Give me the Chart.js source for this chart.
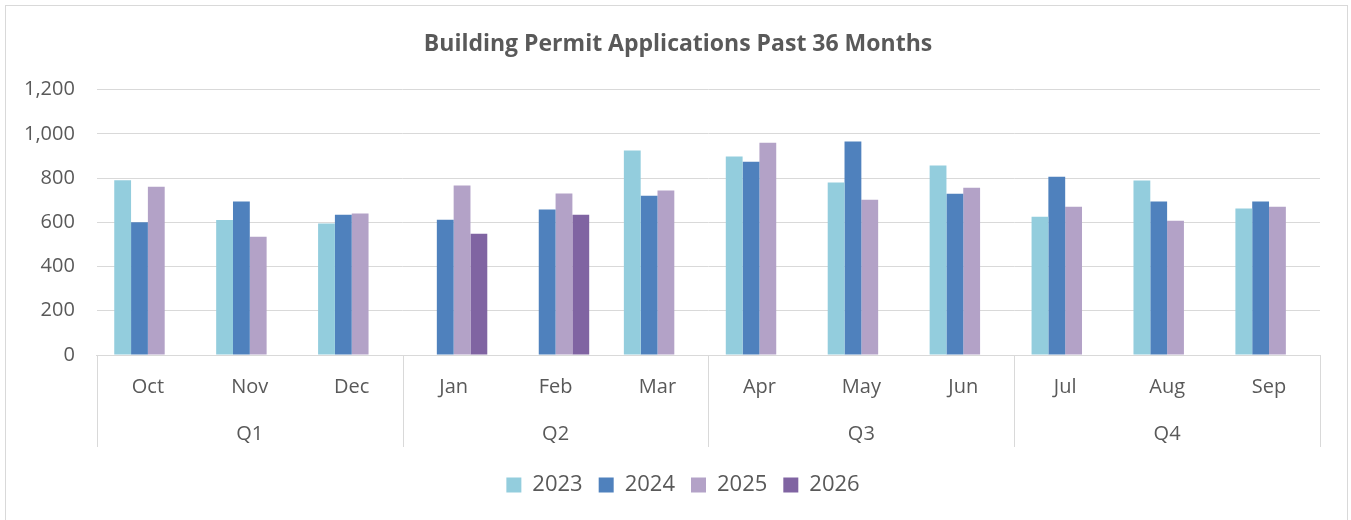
<!DOCTYPE html>
<html lang="en">
<head>
  <meta charset="UTF-8" />
  <title>Building Permit Applications</title>
  <script src="https://cdn.jsdelivr.net/npm/chart.js"></script>
  <style>
    body {
      margin: 0;
      background: #ffffff;
      font-family: 'Open Sans', sans-serif;
    }
    .frame {
      position: absolute;
      left: 5px; top: 5px;
      width: 1343px; height: 530px;
      border: 1px solid #d9d9d9;
      box-sizing: border-box;
    }
    .wrap {
      position: absolute;
      left: 0; top: 0;
      width: 1351px; height: 520px;
    }
  </style>
</head>
<body>
  <div class="frame"></div>
  <div class="wrap"><canvas id="permits"></canvas></div>

  <script>
    const months = ['Oct', 'Nov', 'Dec', 'Jan', 'Feb', 'Mar', 'Apr', 'May', 'Jun', 'Jul', 'Aug', 'Sep'];
    const quarters = ['Q1', 'Q2', 'Q3', 'Q4'];
    const years = ['2023', '2024', '2025', '2026'];
    const y2023 = [790, 610, 595, null, null, 925, 897, 780, 857, 625, 789, 662];
    const y2024 = [600, 694, 634, 612, 658, 720, 874, 965, 729, 806, 694, 694];
    const y2025 = [761, 535, 640, 766, 730, 744, 960, 702, 756, 670, 607, 670];
    const y2026 = [null, null, null, 548, 634, null, null, null, null, null, null, null];
    const yTicks = [0, 200, 400, 600, 800, 1000, 1200];
    const colors = ['#93cddd', '#4f81bd', '#b3a2c7', '#8064a2'];

    const grey = '#595959';
    const line = '#d9d9d9';

    // vertical separators between the quarter groups under the axis
    const quarterLines = {
      id: 'quarterLines',
      afterLayout(chart) {
        // title and legend sit centred on the whole frame, not on the plot
        chart.titleBlock.left += 34;
        chart.legend.left += 44;
      },
      afterDraw(chart) {
        const q = chart.scales.x2;
        const ctx = chart.ctx;
        const half = (q.getPixelForValue(1) - q.getPixelForValue(0)) / 2;
        ctx.save();
        ctx.strokeStyle = line;
        ctx.lineWidth = 1;
        for (let k = 0; k <= quarters.length; k++) {
          const px = Math.round(k < quarters.length ? q.getPixelForValue(k) - half : q.getPixelForValue(k - 1) + half) + 0.5;
          ctx.beginPath();
          ctx.moveTo(px, chart.chartArea.bottom);
          ctx.lineTo(px, q.top + 28);
          ctx.stroke();
        }
        ctx.restore();
      }
    };

    const series = [y2023, y2024, y2025, y2026];

    new Chart(document.getElementById('permits'), {
      type: 'bar',
      data: {
        labels: months,
        datasets: years.map((yr, i) => ({
          label: yr,
          data: series[i],
          backgroundColor: colors[i],
          borderWidth: 0,
          categoryPercentage: 0.66,
          barPercentage: 1
        }))
      },
      options: {
        responsive: true,
        maintainAspectRatio: false,
        animation: false,
        layout: { padding: { left: 2, right: 31, top: 0, bottom: 14 } },
        plugins: {
          title: {
            display: true,
            text: 'Building Permit Applications Past 36 Months',
            color: grey,
            font: { family: 'Open Sans', size: 23, weight: 'bold' },
            padding: { top: 31, bottom: 31 }
          },
          legend: {
            position: 'bottom',
            labels: {
              color: grey,
              font: { family: 'Open Sans', size: 22 },
              boxWidth: 15,
              boxHeight: 15,
              padding: 16
            }
          },
          tooltip: { enabled: false }
        },
        scales: {
          x: {
            grid: { display: false, drawTicks: false },
            border: { display: true, color: line },
            ticks: { color: grey, font: { family: 'Open Sans', size: 20 }, padding: 20 }
          },
          x2: {
            type: 'category',
            labels: quarters,
            position: 'bottom',
            weight: 1,
            offset: true,
            grid: { display: false, drawTicks: false },
            border: { display: false },
            ticks: { color: grey, font: { family: 'Open Sans', size: 20 }, padding: 3 },
            afterFit(scale) { scale.height = 39; }
          },
          y: {
            min: 0,
            max: 1200,
            afterBuildTicks(scale) {
              scale.ticks = yTicks.map(v => ({ value: v }));
            },
            grid: { color: line, drawTicks: false },
            border: { display: false },
            ticks: {
              color: grey,
              font: { family: 'Open Sans', size: 20 },
              padding: 22,
              callback: v => v.toLocaleString('en-US')
            }
          }
        }
      },
      plugins: [quarterLines]
    });
  </script>
</body>
</html>
